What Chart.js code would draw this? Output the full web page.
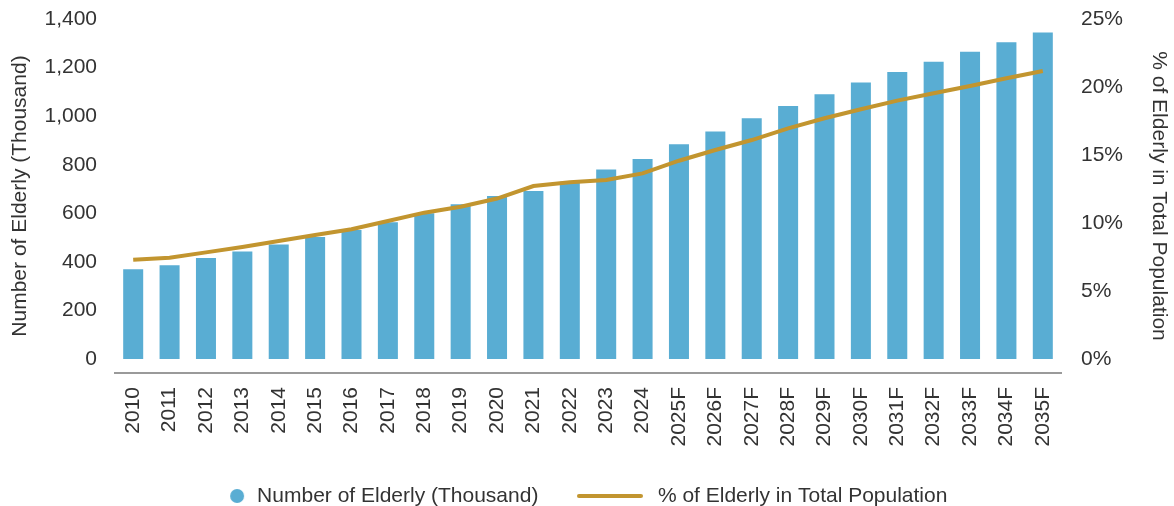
<!DOCTYPE html>
<html>
<head>
<meta charset="utf-8">
<script src="https://cdn.jsdelivr.net/npm/chart.js@4.4.1/dist/chart.umd.min.js"></script>
<style>
  html, body { margin: 0; padding: 0; background: #fff; }
  #wrap { width: 1174px; height: 506px; }
</style>
</head>
<body>
<div id="wrap"><canvas id="myChart" width="1174" height="506"></canvas></div>
<script>
// data
var years = ['2010', '2011', '2012', '2013', '2014', '2015', '2016', '2017', '2018', '2019',
  '2020', '2021', '2022', '2023', '2024', '2025F', '2026F', '2027F', '2028F', '2029F',
  '2030F', '2031F', '2032F', '2033F', '2034F', '2035F'];
var elderly = [370, 386, 416, 443, 472, 502, 531, 563, 600, 637,
  671, 692, 730, 780, 824, 884, 937, 991, 1042, 1090,
  1139, 1182, 1224, 1265, 1304, 1344];
var elderlyPct = [7.3, 7.45, 7.84, 8.24, 8.68, 9.12, 9.54, 10.15, 10.76, 11.2,
  11.8, 12.72, 12.99, 13.16, 13.65, 14.58, 15.37, 16.1, 16.96, 17.7,
  18.36, 19.0, 19.54, 20.07, 20.64, 21.18];
var leftTicks = [0, 200, 400, 600, 800, 1000, 1200, 1400];
var rightTicks = [0, 5, 10, 15, 20, 25];

var barColor = '#59add3';
var lineColor = '#c2952f';
var textColor = '#333333';
var fontFamily = '"Liberation Sans", Arial, Helvetica, sans-serif';
var fontSize = 21;

// legend markers
function circleMarker() {
  var c = document.createElement('canvas');
  c.width = 72; c.height = 16;
  var g = c.getContext('2d');
  g.fillStyle = barColor;
  g.beginPath();
  g.arc(64, 8, 7, 0, Math.PI * 2);
  g.fill();
  return c;
}
function lineMarker() {
  var c = document.createElement('canvas');
  c.width = 66; c.height = 6;
  var g = c.getContext('2d');
  g.strokeStyle = lineColor;
  g.lineWidth = 4;
  g.lineCap = 'round';
  g.beginPath();
  g.moveTo(2, 3);
  g.lineTo(64, 3);
  g.stroke();
  return c;
}
var markers = [circleMarker(), lineMarker()];

function noPad(scale) {
  scale.paddingTop = 0;
  scale.paddingBottom = 0;
}

// legend in the picture sits a bit left of centre
var legendShift = {
  id: 'legendShift',
  afterLayout: function (chart) {
    if (chart.legend) chart.legend.right -= 55;
  }
};

var ctx = document.getElementById('myChart').getContext('2d');

var chart = new Chart(ctx, {
  type: 'bar',
  data: {
    labels: years,
    datasets: [{
      label: 'Number of Elderly (Thousand)',
      data: elderly,
      backgroundColor: barColor,
      borderWidth: 0,
      categoryPercentage: 1,
      barPercentage: 0.55,
      yAxisID: 'y',
      order: 1
    }, {
      label: '% of Elderly in Total Population',
      type: 'line',
      data: elderlyPct,
      borderColor: lineColor,
      backgroundColor: lineColor,
      borderWidth: 4,
      pointRadius: 0,
      tension: 0,
      fill: false,
      yAxisID: 'y1',
      order: 0
    }]
  },
  plugins: [legendShift],
  options: {
    responsive: false,
    animation: false,
    layout: {
      padding: { top: 19, left: 0, right: 0, bottom: 0 }
    },
    scales: {
      x: {
        grid: { display: false, drawTicks: false },
        border: { display: true, color: '#9a9a9a', width: 2 },
        ticks: {
          color: textColor,
          font: { family: fontFamily, size: fontSize },
          autoSkip: false,
          maxRotation: 90,
          minRotation: 90,
          padding: 14
        },
        afterFit: function (scale) {
          scale.height = 78.5;
          scale.paddingLeft = 0;
          scale.paddingRight = 0;
        }
      },
      y: {
        position: 'left',
        min: -57.6,
        max: 1400,
        grid: { display: false, drawTicks: false },
        border: { display: false },
        afterBuildTicks: function (scale) {
          scale.ticks = leftTicks.map(function (v) { return { value: v }; });
        },
        ticks: {
          color: textColor,
          font: { family: fontFamily, size: fontSize },
          padding: 18,
          callback: function (v) { return v.toLocaleString('en-US'); }
        },
        title: {
          display: true,
          text: 'Number of Elderly (Thousand)',
          color: textColor,
          font: { family: fontFamily, size: fontSize },
          padding: { top: 7.4, bottom: 0 }
        },
        afterFit: function (scale) {
          scale.width = 115;
          noPad(scale);
        }
      },
      y1: {
        position: 'right',
        min: -1.029,
        max: 25,
        grid: { display: false, drawTicks: false },
        border: { display: false },
        afterBuildTicks: function (scale) {
          scale.ticks = rightTicks.map(function (v) { return { value: v }; });
        },
        ticks: {
          color: textColor,
          font: { family: fontFamily, size: fontSize },
          padding: 20,
          callback: function (v) { return v + '%'; }
        },
        title: {
          display: true,
          text: '% of Elderly in Total Population',
          color: textColor,
          font: { family: fontFamily, size: fontSize },
          padding: { top: 2.4, bottom: 0 }
        },
        afterFit: function (scale) {
          scale.width = 113;
          noPad(scale);
        }
      }
    },
    plugins: {
      legend: {
        position: 'bottom',
        maxHeight: 54.5,
        labels: {
          color: textColor,
          font: { family: fontFamily, size: fontSize },
          usePointStyle: true,
          pointStyleWidth: 75,
          boxHeight: 10,
          padding: 34,
          sort: function (a, b) { return a.datasetIndex - b.datasetIndex; },
          generateLabels: function (chart) {
            return Chart.defaults.plugins.legend.labels.generateLabels(chart).map(function (item) {
              item.pointStyle = markers[item.datasetIndex];
              return item;
            });
          }
        }
      },
      tooltip: { enabled: false }
    }
  }
});
</script>
</body>
</html>
